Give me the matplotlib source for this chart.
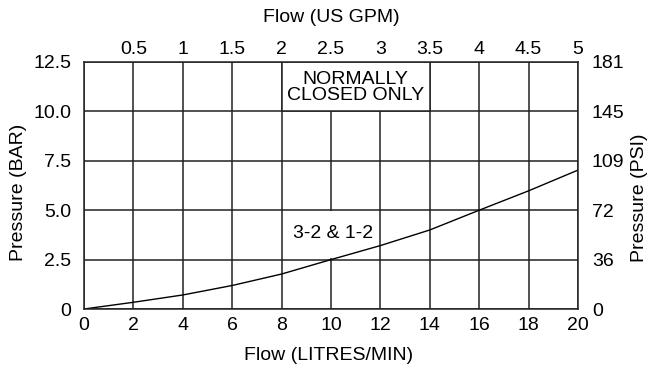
import matplotlib
matplotlib.use("Agg")
import matplotlib.pyplot as plt
from matplotlib.patches import Rectangle

plt.rcParams['font.family'] = ['Liberation Sans', 'DejaVu Sans']

# pressure drop curve, 3-2 & 1-2
flow_lpm = [0, 2, 4, 6, 8, 10, 12, 14, 16, 18, 20]
pressure_bar = [0, 0.34, 0.71, 1.19, 1.77, 2.5, 3.21, 4.0, 5.0, 5.98, 7.03]

lpm_ticks = [0, 2, 4, 6, 8, 10, 12, 14, 16, 18, 20]
bar_ticks = [0, 2.5, 5.0, 7.5, 10.0, 12.5]
bar_labels = ["0", "2.5", "5.0", "7.5", "10.0", "12.5"]
gpm_ticks = [2, 4, 6, 8, 10, 12, 14, 16, 18, 20]
gpm_labels = ["0.5", "1", "1.5", "2", "2.5", "3", "3.5", "4", "4.5", "5"]
psi_labels = ["0", "36", "72", "109", "145", "181"]

fs = 14
line_col = "#222222"
W, H = 649, 369

fig = plt.figure(figsize=(W / 100, H / 100), dpi=100)
ax = fig.add_axes([84 / W, 1 - 309 / H, 494 / W, 247 / H])
ax.set_xlim(0, 20)
ax.set_ylim(0, 12.5)

# grid drawn by hand so the boxes can sit on top of it
for x in lpm_ticks:
    ax.axvline(x, color=line_col, lw=1.1, zorder=1)
for y in bar_ticks:
    ax.axhline(y, color=line_col, lw=1.1, zorder=1)

ax.add_patch(Rectangle((8, 10), 6, 2.5, facecolor="white", edgecolor=line_col,
                       lw=1.1, zorder=2))
ax.text(11, 11.2, "NORMALLY\nCLOSED ONLY", ha="center", va="center",
        fontsize=fs, linespacing=0.92, zorder=3)

ax.add_patch(Rectangle((8.1, 2.56), 3.8, 2.38, facecolor="white",
                       edgecolor="none", zorder=2))
ax.text(10.1, 3.8, "3-2 & 1-2", ha="center", va="center", fontsize=fs, zorder=3)

ax.plot(flow_lpm, pressure_bar, color="black", lw=1.0, zorder=4)

for s in ax.spines.values():
    s.set_color(line_col)
    s.set_linewidth(1.1)
    s.set_zorder(5)

ax.set_xticks(lpm_ticks)
ax.set_yticks(bar_ticks)
ax.set_yticklabels(bar_labels)
ax.tick_params(axis="x", length=0, pad=6, labelsize=fs)
ax.tick_params(axis="y", length=0, pad=9, labelsize=fs)

top = ax.twiny()
top.set_xlim(0, 20)
top.set_xticks(gpm_ticks)
top.set_xticklabels(gpm_labels)
top.tick_params(axis="x", length=0, pad=3, labelsize=fs)

right = ax.twinx()
right.set_ylim(0, 12.5)
right.set_yticks(bar_ticks)
right.set_yticklabels(psi_labels)
right.tick_params(axis="y", length=0, pad=10, labelsize=fs)

for a in (top, right):
    for s in a.spines.values():
        s.set_visible(False)

# axis titles
fig.text(329 / W, 1 - 356 / H, "Flow (LITRES/MIN)", fontsize=fs,
         ha="center", va="center")
fig.text(331 / W, 1 - 18 / H, "Flow (US GPM)", fontsize=fs,
         ha="center", va="center")
fig.text(19 / W, 1 - 192 / H, "Pressure (BAR)", fontsize=fs, rotation=90,
         ha="center", va="center")
fig.text(640 / W, 1 - 198 / H, "Pressure (PSI)", fontsize=fs, rotation=90,
         ha="center", va="center")

fig.savefig("out.png", dpi=100)
